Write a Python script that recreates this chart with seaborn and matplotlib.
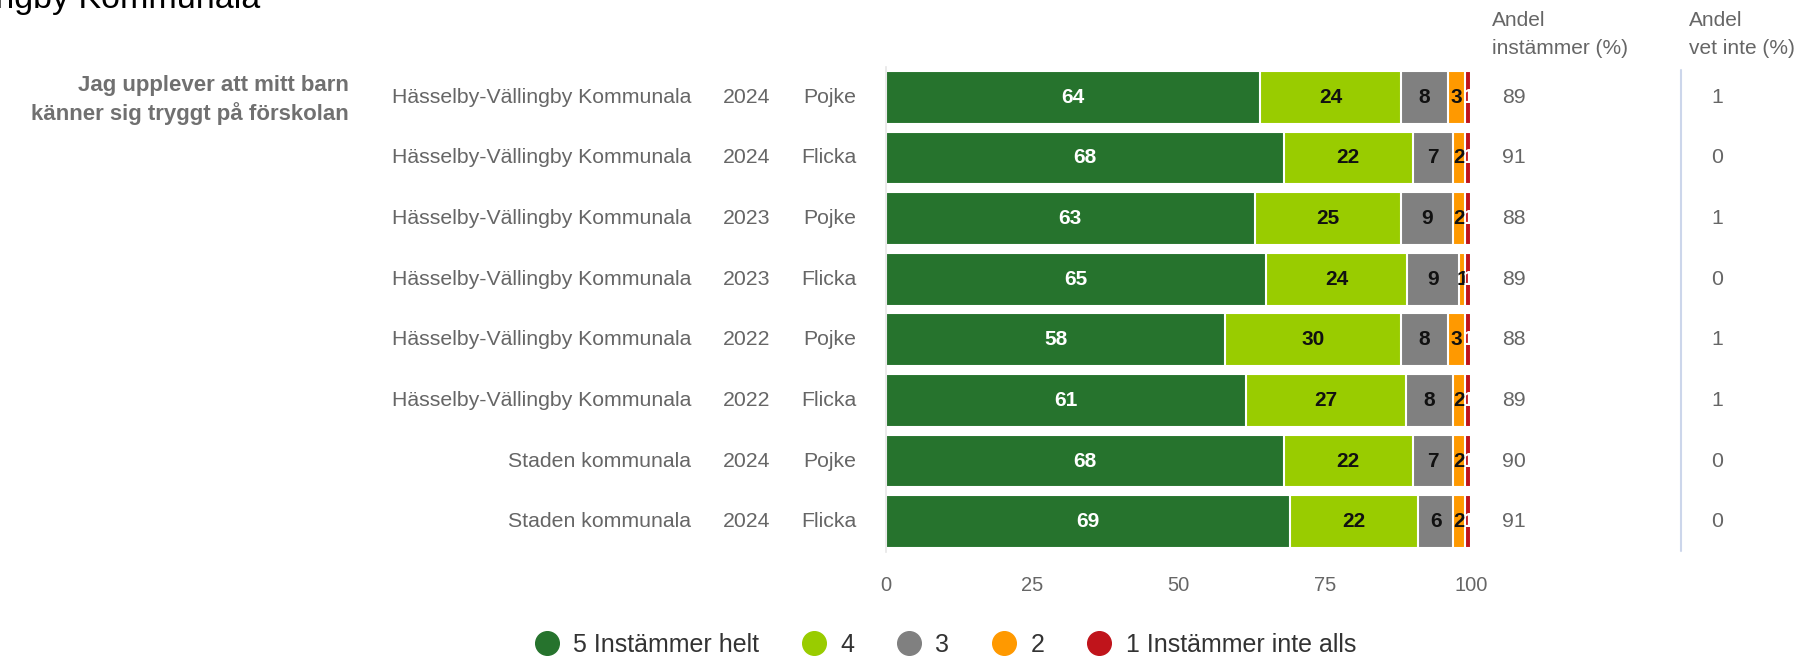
import numpy as np
import pandas as pd
import matplotlib
matplotlib.use("Agg")
import matplotlib.pyplot as plt
from matplotlib.transforms import blended_transform_factory
from matplotlib.lines import Line2D
import seaborn as sns

# data
regions = ["Hässelby-Vällingby Kommunala"] * 6 + ["Staden kommunala"] * 2
years = ["2024", "2024", "2023", "2023", "2022", "2022", "2024", "2024"]
genders = ["Pojke", "Flicka", "Pojke", "Flicka", "Pojke", "Flicka", "Pojke", "Flicka"]
v5 = [64, 68, 63, 65, 58, 61, 68, 69]
v4 = [24, 22, 25, 24, 30, 27, 22, 22]
v3 = [8, 7, 9, 9, 8, 8, 7, 6]
v2 = [3, 2, 2, 1, 3, 2, 2, 2]
v1 = [1, 1, 1, 1, 1, 1, 1, 1]
andel_instammer = [89, 91, 88, 89, 88, 89, 90, 91]
andel_vet_inte = [1, 0, 1, 0, 1, 1, 0, 0]
levels = ["5 Instämmer helt", "4", "3", "2", "1 Instämmer inte alls"]
colors = ["#26732d", "#99cc00", "#808080", "#ff9900", "#c0141b"]
question = "Jag upplever att mitt barn\nkänner sig tryggt på förskolan"
title = "Hässelby-Vällingby Kommunala"

W, H = 1819, 660
sns.set_style("white")
plt.rcParams["font.family"] = ["Liberation Sans", "DejaVu Sans"]
grey = "#666666"
axcol = "#ccd6eb"

df = pd.DataFrame({"row": [str(i) for i in range(8)], "v5": v5, "v4": v4,
                   "v3": v3, "v2": v2, "v1": v1})
raw = df[["v5", "v4", "v3", "v2", "v1"]].to_numpy(dtype=float)
# bars fill the full 100 % width
vals = raw / raw.sum(axis=1, keepdims=True) * 100
cum = np.cumsum(vals, axis=1)

fig = plt.figure(figsize=(W / 100, H / 100), dpi=100)
ax = fig.add_axes([886 / W, 1 - 552 / H, (1471 - 886) / W, (552 - 67) / H])

# stacked bars: draw cumulative totals from the right-most level back
for k in range(4, -1, -1):
    sns.barplot(x=cum[:, k], y=df["row"], orient="h", color=colors[k],
                width=0.87, edgecolor="white", linewidth=1.5, ax=ax,
                saturation=1)

# segment labels
for i in range(8):
    for k in range(5):
        c = cum[i, k] - vals[i, k] / 2
        col = "white" if k in (0, 4) else "#111111"
        ax.text(c, i, str(int(raw[i, k])), ha="center", va="center",
                fontsize=15, fontweight="bold", color=col)

ax.set_xlim(0, 100)
ax.set_ylim(7.5, -0.5)
ax.set_xticks([0, 25, 50, 75, 100])
ax.set_xticklabels(["0", "25", "50", "75", "100"])
ax.tick_params(axis="x", length=0, pad=17, labelsize=14.5, labelcolor=grey)
ax.set_yticks(np.arange(-0.5, 8, 1))
ax.set_yticklabels([])
ax.tick_params(axis="y", length=14, width=1.5, color=axcol, direction="out")
ax.set_xlabel("")
ax.set_ylabel("")
for s in ["top", "right", "bottom"]:
    ax.spines[s].set_visible(False)
ax.spines["left"].set_color("#e6e6e6")
ax.spines["left"].set_linewidth(1.2)

# row labels left of the bars and value columns right of them
tr = blended_transform_factory(fig.transFigure, ax.transData)
for i in range(8):
    ax.text(691 / W, i, regions[i], transform=tr, ha="right", va="center",
            fontsize=15.3, color=grey)
    ax.text(747 / W, i, years[i], transform=tr, ha="center", va="center",
            fontsize=15.3, color=grey)
    ax.text(856 / W, i, genders[i], transform=tr, ha="right", va="center",
            fontsize=15.3, color=grey)
    ax.text(1502 / W, i, str(andel_instammer[i]), transform=tr, ha="left",
            va="center", fontsize=15.3, color=grey)
    ax.text(1717 / W, i, str(andel_vet_inte[i]), transform=tr, ha="center",
            va="center", fontsize=15.3, color=grey)

fig.add_artist(Line2D([1681 / W, 1681 / W], [1 - 70 / H, 1 - 551 / H],
                      color=axcol, linewidth=1.5))

fig.text(1492 / W, 1 - 20 / H, "Andel", ha="left", va="center", fontsize=15, color=grey)
fig.text(1492 / W, 1 - 49 / H, "instämmer (%)", ha="left", va="center", fontsize=15, color=grey)
fig.text(1689 / W, 1 - 20 / H, "Andel", ha="left", va="center", fontsize=15, color=grey)
fig.text(1689 / W, 1 - 49 / H, "vet inte (%)", ha="left", va="center", fontsize=15, color=grey)

fig.text(349 / W, 1 - 100 / H, question, ha="right", va="center", fontsize=16,
         fontweight="bold", color="#707070", linespacing=1.3)

fig.text(260 / W, 1 - 8 / H, title, ha="right", va="baseline", fontsize=24.5, color="black")

handles = [Line2D([], [], marker="o", linestyle="none", markersize=17,
                  markerfacecolor=c, markeredgecolor=c) for c in colors]
fig.legend(handles, levels, loc="center", bbox_to_anchor=(945 / W, 1 - 645 / H),
           ncol=5, frameon=False, fontsize=18, handlelength=1.0,
           handletextpad=0.55, columnspacing=1.7, labelcolor="#333333")

fig.savefig("out.png", dpi=100)
